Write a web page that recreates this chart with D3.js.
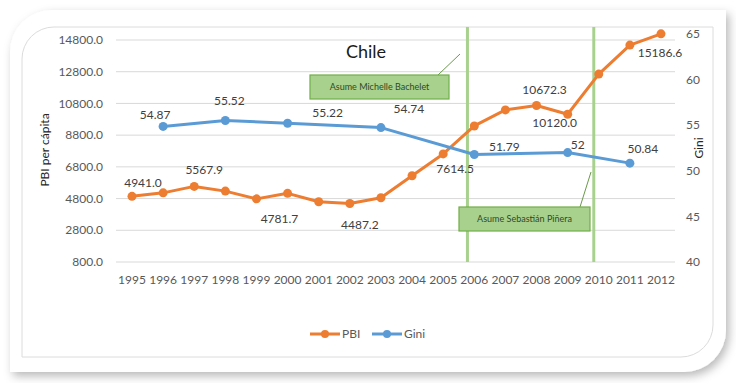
<!DOCTYPE html>
<html><head><meta charset="utf-8">
<script src="https://cdn.jsdelivr.net/npm/d3@7"></script>
<style>html,body{margin:0;padding:0;background:#fff;}svg{display:block;font-family:Lato,"Open Sans",sans-serif;}</style>
</head><body>
<script>
const years = [1995,1996,1997,1998,1999,2000,2001,2002,2003,2004,2005,2006,2007,2008,2009,2010,2011,2012];
const pbi = [4941.0,5160,5567.9,5270,4781.7,5130,4600,4487.2,4850,6240,7614.5,9380,10390,10672.3,10120.0,12650,14480,15186.6];
const giniYears = [1996,1998,2000,2003,2006,2009,2011];
const gini = [54.87,55.52,55.22,54.74,51.79,52,50.84];
const pbiTicks = [800,2800,4800,6800,8800,10800,12800,14800];
const giniTicks = [40,45,50,55,60,65];
// labelled PBI points: [year, text, dx, dy]
const pbiLabels = [[1995,"4941.0",11,-14],[1997,"5567.9",10,-17],[1999,"4781.7",23,20],[2002,"4487.2",10,21],[2005,"7614.5",12,15],[2008,"10672.3",8,-16],[2009,"10120.0",-13,9],[2012,"15186.6",-1,19]];
const giniLabels = [[1996,"54.87",-8,-12],[1998,"55.52",4,-20],[2000,"55.22",40,-10],[2003,"54.74",28,-19],[2006,"51.79",30,-8],[2009,"52",10,-8],[2011,"50.84",13,-14]];
const eventYears = [2005.78, 2009.84];
const eventText = ["Asume Michelle Bachelet","Asume Sebastián Piñera"];

const W=736,H=383;
const svg=d3.select("body").append("svg").attr("width",W).attr("height",H);
const defs=svg.append("defs");
const f=defs.append("filter").attr("id","sh").attr("x","-10%").attr("y","-10%").attr("width","120%").attr("height","120%");
f.append("feDropShadow").attr("dx",3).attr("dy",4).attr("stdDeviation",5).attr("flood-color","#000").attr("flood-opacity",0.28);

function diagRound(x0,y0,x1,y1,r){
  return `M${x0+r},${y0} L${x1},${y0} L${x1},${y1-r} A${r},${r} 0 0 1 ${x1-r},${y1} L${x0},${y1} L${x0},${y0+r} A${r},${r} 0 0 1 ${x0+r},${y0} Z`;
}
svg.append("path").attr("d",diagRound(10,10,726,372,42)).attr("fill","#fff").attr("filter","url(#sh)");
svg.append("path").attr("d",diagRound(22,27,713,357,32)).attr("fill","none").attr("stroke","#dcdcdc").attr("stroke-width",1);

const x=d3.scaleLinear().domain([1995,2012]).range([132,661]);
const yL=d3.scaleLinear().domain([800,14800]).range([262,40]);
const yR=d3.scaleLinear().domain([40,65]).range([262,34]);

// gridlines
svg.append("g").selectAll("line").data(pbiTicks).join("line")
  .attr("x1",116).attr("x2",675).attr("y1",d=>yL(d)).attr("y2",d=>yL(d))
  .attr("stroke","#d9d9d9").attr("stroke-width",1);

// left axis labels
svg.append("g").selectAll("text").data(pbiTicks).join("text")
  .attr("x",103).attr("y",d=>yL(d)).attr("dy","0.35em").attr("text-anchor","end")
  .attr("font-size",12).attr("fill","#595959").text(d=>d3.format(".1f")(d));
// right axis labels
svg.append("g").selectAll("text").data(giniTicks).join("text")
  .attr("x",686).attr("y",d=>yR(d)).attr("dy","0.35em").attr("text-anchor","start")
  .attr("font-size",12).attr("fill","#595959").text(d=>d);
// x labels
svg.append("g").selectAll("text").data(years).join("text")
  .attr("x",d=>x(d)).attr("y",280).attr("dy","0.35em").attr("text-anchor","middle")
  .attr("font-size",12).attr("fill","#595959").text(d=>d);

// axis titles
svg.append("text").attr("transform","translate(49,150) rotate(-90)").attr("text-anchor","middle")
  .attr("font-size",12).attr("fill","#262626").text("PBI per cápita");
svg.append("text").attr("transform","translate(703,148) rotate(-90)").attr("text-anchor","middle")
  .attr("font-size",12).attr("fill","#262626").text("Gini");

// title
svg.append("text").attr("x",366).attr("y",58).attr("text-anchor","middle").attr("font-size",18).attr("fill","#1a1a1a").text("Chile");

// event vertical lines
svg.append("g").selectAll("line").data(eventYears).join("line")
  .attr("x1",d=>x(d)).attr("x2",d=>x(d)).attr("y1",27).attr("y2",262)
  .attr("stroke","#a9d18e").attr("stroke-width",3);

// lines
const orange="#ed7d31", blue="#5b9bd5";
const lineL=d3.line().x(d=>x(d[0])).y(d=>yL(d[1]));
const lineR=d3.line().x(d=>x(d[0])).y(d=>yR(d[1]));
const pbiData=years.map((y,i)=>[y,pbi[i]]);
const giniData=giniYears.map((y,i)=>[y,gini[i]]);
svg.append("path").datum(pbiData).attr("d",lineL).attr("fill","none").attr("stroke",orange).attr("stroke-width",3).attr("stroke-linejoin","round");
svg.append("g").selectAll("circle").data(pbiData).join("circle").attr("cx",d=>x(d[0])).attr("cy",d=>yL(d[1])).attr("r",4.5).attr("fill",orange);
svg.append("path").datum(giniData).attr("d",lineR).attr("fill","none").attr("stroke",blue).attr("stroke-width",3).attr("stroke-linejoin","round");
svg.append("g").selectAll("circle").data(giniData).join("circle").attr("cx",d=>x(d[0])).attr("cy",d=>yR(d[1])).attr("r",4.5).attr("fill",blue);

// data labels
svg.append("g").selectAll("text").data(pbiLabels).join("text")
  .attr("x",d=>x(d[0])+d[2]).attr("y",d=>yL(pbi[years.indexOf(d[0])])+d[3]).attr("dy","0.35em")
  .attr("text-anchor","middle").attr("font-size",12).attr("fill","#404040").text(d=>d[1]);
svg.append("g").selectAll("text").data(giniLabels).join("text")
  .attr("x",d=>x(d[0])+d[2]).attr("y",d=>yR(gini[giniYears.indexOf(d[0])])+d[3]).attr("dy","0.35em")
  .attr("text-anchor","middle").attr("font-size",12).attr("fill","#404040").text(d=>d[1]);

// annotation boxes
function box(x0,y0,w,h,txt,lx1,ly1,lx2,ly2){
  svg.append("line").attr("x1",lx1).attr("y1",ly1).attr("x2",lx2).attr("y2",ly2).attr("stroke","#6a9a4a").attr("stroke-width",1);
  svg.append("rect").attr("x",x0).attr("y",y0).attr("width",w).attr("height",h).attr("fill","#a9d18e").attr("stroke","#70ad47").attr("stroke-width",1.2);
  svg.append("text").attr("x",x0+w/2).attr("y",y0+h/2).attr("dy","0.35em").attr("text-anchor","middle")
    .attr("font-size",9).attr("fill","#2f4a1f").text(txt);
}
box(310,75,139,24,eventText[0],438,75,460,54);
box(459,207,131,24,eventText[1],580,207,591,172);

// legend
const lg=svg.append("g");
[[310,orange,"PBI"],[372,blue,"Gini"]].forEach(([lx,c,t])=>{
  lg.append("line").attr("x1",lx).attr("x2",lx+30).attr("y1",334).attr("y2",334).attr("stroke",c).attr("stroke-width",3);
  lg.append("circle").attr("cx",lx+15).attr("cy",334).attr("r",4).attr("fill",c);
  lg.append("text").attr("x",lx+32).attr("y",334).attr("dy","0.35em").attr("font-size",12).attr("fill","#595959").text(t);
});
</script>
</body></html>
